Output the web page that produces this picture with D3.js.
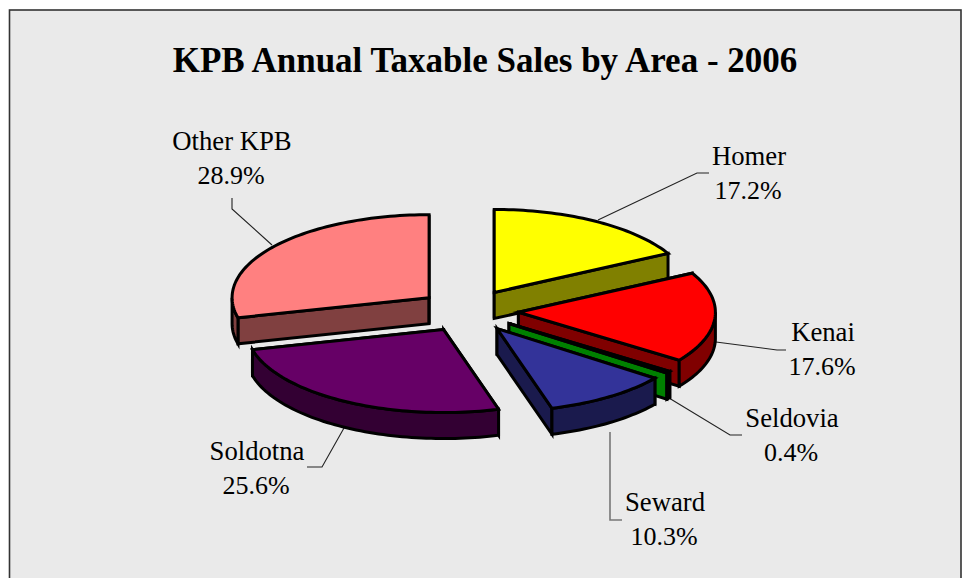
<!DOCTYPE html>
<html>
<head>
<meta charset="utf-8">
<script src="https://cdn.jsdelivr.net/npm/d3@7"></script>
<style>
html,body{margin:0;padding:0;background:#fff;overflow:hidden}
svg{display:block}
text{font-family:"Liberation Serif","Times New Roman",serif;fill:#000}
</style>
</head>
<body>
<svg id="c" width="965" height="578"></svg>
<script>
const title = "KPB Annual Taxable Sales by Area - 2006";
const areas = ["Homer","Kenai","Seldovia","Seward","Soldotna","Other KPB"];
const shares = [17.2,17.6,0.4,10.3,25.6,28.9];
const topColors = ["#ffff00","#ff0000","#00c000","#333399","#660066","#ff8080"];
const sideColors = ["#808000","#800000","#008000","#1a1a4d","#330033","#804040"];
const paintOrder = ["Other KPB","Homer","Kenai","Seldovia","Soldotna","Seward"];
const labelCentres = [[749,165],[823,341],[792,427],[665,511],[257,460],[232,150]];
const leaders = [
  [[598,220],[697,173],[709,173]],
  [[716,342],[777,350],[786,350]],
  [[669,398],[730,435],[742,435]],
  [[610,432],[610,520],[622,520]],
  [[344,428],[322,467],[307,467]],
  [[272,245],[232,209],[232,198]]
];
const leaderColors = ["#222","#222","#222","#777","#222","#222"];

const svg = d3.select("#c");
const cx = 468.5, cy = 310.9, rx = 197, ry = 83, depth = 26, ex = 50, ey = 21.5;

svg.append("rect").attr("x",9.5).attr("y",10).attr("width",951.5).attr("height",600)
  .attr("fill","#eaeaea").attr("stroke","#333").attr("stroke-width",1.6);

svg.append("text").attr("x",485).attr("y",72).attr("text-anchor","middle")
  .attr("font-size",35).attr("font-weight","bold").text(title);

const line = d3.line();
const arcs = d3.pie().sort(null).value(d=>d)(shares);

// leader lines sit under the pie
svg.append("g").selectAll("path").data(leaders).join("path")
  .attr("d",d=>line(d)).attr("fill","none")
  .attr("stroke",(d,i)=>leaderColors[i]).attr("stroke-width",(d,i)=>i===3?1.6:1.1);

const slices = arcs.map((a,i)=>({...a,name:areas[i],i}))
  .sort((p,q)=>paintOrder.indexOf(p.name)-paintOrder.indexOf(q.name));

const g = svg.append("g").attr("stroke","#000").attr("stroke-width",3)
  .attr("stroke-linejoin","miter").attr("stroke-miterlimit",4);

slices.forEach(s=>{
  const mid = (s.startAngle+s.endAngle)/2;
  const ox = cx + ex*Math.sin(mid), oy = cy - ey*Math.cos(mid);
  const pt = (a,z=0)=>[ox+rx*Math.sin(a), oy-ry*Math.cos(a)+z];
  const sweep = (a0,a1,z)=>{
    const n = Math.max(2,Math.ceil(Math.abs(a1-a0)*40));
    return d3.range(n+1).map(k=>pt(a0+(a1-a0)*k/n,z));
  };
  const side = sideColors[s.i], top = topColors[s.i];
  // cut faces
  [s.startAngle,s.endAngle].forEach(a=>{
    g.append("path").attr("fill",side).attr("d",line([[ox,oy],pt(a),pt(a,depth),[ox,oy+depth]])+"Z");
  });
  // outer wall, front half only
  const a0 = Math.max(s.startAngle,Math.PI/2), a1 = Math.min(s.endAngle,Math.PI*1.5);
  if(a1>a0){
    g.append("path").attr("fill",side)
      .attr("d",line(sweep(a0,a1,0).concat(sweep(a1,a0,depth)))+"Z");
  }
  // top face
  g.append("path").attr("fill",top)
    .attr("d",line([[ox,oy]].concat(sweep(s.startAngle,s.endAngle,0)))+"Z");
});

const fmt = d3.format(".1f");
const lab = svg.append("g").attr("text-anchor","middle").attr("font-size",26.7);
areas.forEach((n,i)=>{
  const [x,y] = labelCentres[i];
  lab.append("text").attr("x",x).attr("y",y).text(n);
  lab.append("text").attr("x",x-1).attr("y",y+33.5).attr("font-size",26).text(fmt(shares[i])+"%");
});
</script>
</body>
</html>
